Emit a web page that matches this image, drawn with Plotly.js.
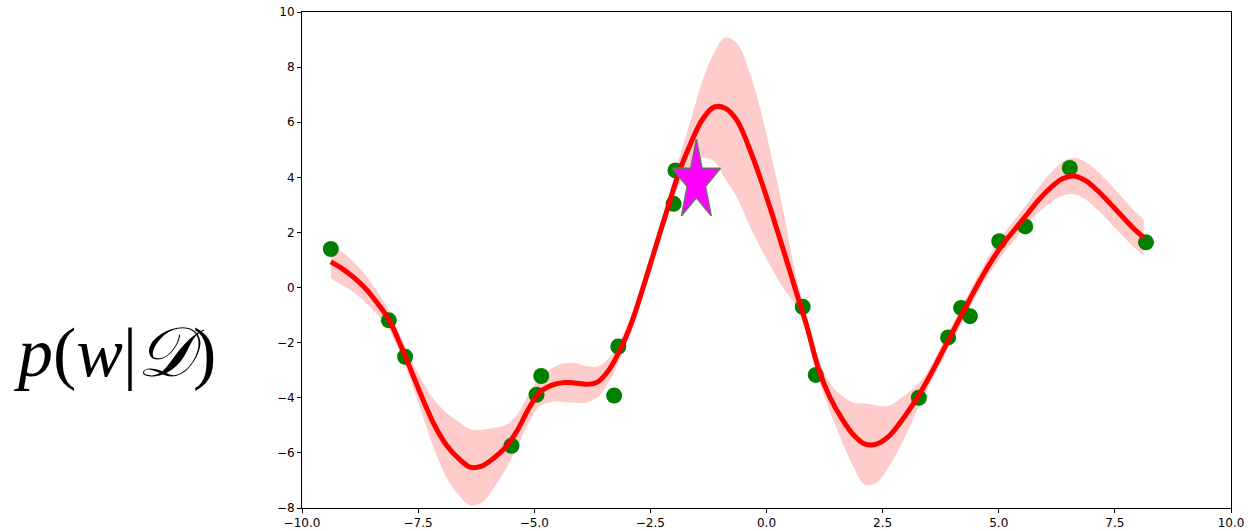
<!DOCTYPE html>
<html>
<head>
<meta charset="utf-8">
<script src="https://cdn.plot.ly/plotly-3.0.1.min.js"></script>
<style>html,body{margin:0;padding:0;background:#fff;}#chart{width:1248px;height:531px;}</style>
</head>
<body>
<div id="chart"></div>
<script>
// Posterior mean curve (x grid), its value, and the half-width of the shaded band
const gridX = [-9.38, -9.13, -8.88, -8.63, -8.38, -8.13, -7.88, -7.63, -7.38, -7.13, -6.88, -6.63, -6.38, -6.13, -5.88, -5.63, -5.38, -5.13, -4.88, -4.63, -4.38, -4.13, -3.88, -3.63, -3.38, -3.13, -2.88, -2.63, -2.38, -2.13, -1.88, -1.63, -1.38, -1.13, -0.88, -0.63, -0.38, -0.13, 0.12, 0.37, 0.62, 0.87, 1.12, 1.37, 1.62, 1.87, 2.12, 2.37, 2.62, 2.87, 3.12, 3.37, 3.62, 3.87, 4.12, 4.37, 4.62, 4.87, 5.12, 5.37, 5.62, 5.87, 6.12, 6.37, 6.62, 6.87, 7.12, 7.37, 7.62, 7.87, 8.12];
const meanY = [0.93, 0.68, 0.36, -0.04, -0.56, -1.16, -2.08, -3.1, -4.13, -5.05, -5.74, -6.2, -6.52, -6.48, -6.2, -5.82, -5.23, -4.43, -3.8, -3.55, -3.45, -3.46, -3.51, -3.42, -2.96, -2.18, -1.16, 0.15, 1.51, 2.87, 4.2, 5.24, 6.1, 6.55, 6.5, 6.05, 5.1, 3.95, 2.67, 1.33, -0.05, -1.41, -2.95, -4.0, -4.75, -5.34, -5.68, -5.68, -5.42, -4.92, -4.32, -3.65, -2.88, -2.06, -1.25, -0.45, 0.33, 1.03, 1.64, 2.16, 2.68, 3.2, 3.63, 3.95, 4.05, 3.88, 3.53, 3.1, 2.65, 2.2, 1.82];
const bandHalf = [0.6, 0.6, 0.55, 0.5, 0.42, 0.35, 0.33, 0.42, 0.65, 0.92, 1.18, 1.33, 1.38, 1.32, 1.1, 0.82, 0.6, 0.52, 0.5, 0.6, 0.7, 0.72, 0.66, 0.56, 0.42, 0.33, 0.3, 0.3, 0.3, 0.33, 0.48, 0.85, 1.4, 1.97, 2.58, 2.8, 2.8, 2.5, 2.0, 1.38, 0.58, 0.35, 0.38, 0.52, 0.83, 1.16, 1.48, 1.4, 1.12, 0.88, 0.6, 0.35, 0.3, 0.3, 0.3, 0.3, 0.32, 0.35, 0.35, 0.36, 0.38, 0.45, 0.54, 0.62, 0.66, 0.68, 0.7, 0.7, 0.69, 0.67, 0.65];

// Observed data points
const ptsX = [-9.38, -8.13, -7.78, -5.49, -4.95, -4.85, -3.28, -3.19, -1.96, -2.0, 0.78, 1.06, 3.28, 3.91, 4.19, 4.38, 5.01, 5.57, 6.53, 8.17];
const ptsY = [1.40, -1.19, -2.51, -5.74, -3.89, -3.21, -3.92, -2.14, 4.25, 3.04, -0.70, -3.17, -4.0, -1.81, -0.74, -1.04, 1.68, 2.22, 4.34, 1.64];

// Star marker position
const starX = [-1.51];
const starY = [3.85];

const xTicks = [-10, -7.5, -5, -2.5, 0, 2.5, 5, 7.5, 10];
const yTicks = [-8, -6, -4, -2, 0, 2, 4, 6, 8, 10];

const upperY = meanY.map((m, i) => m + bandHalf[i]);
const lowerY = meanY.map((m, i) => m - bandHalf[i]);

const M = {l: 302, r: 17, t: 12, b: 23};
const W = 1248, H = 531;
const xRange = [-10, 10], yRange = [-8, 10];
const pxPerX = (W - M.l - M.r) / (xRange[1] - xRange[0]);
const pxPerY = (H - M.t - M.b) / (yRange[1] - yRange[0]);

// star polygon computed around the star position (radii in pixels, stretched vertically as in the reference)
const starRx = 25.3, starRy = 42.4, innerRatio = 0.382;
const sx = [], sy = [];
for (let k = 0; k <= 10; k++) {
  const ang = Math.PI / 2 + k * Math.PI / 5;
  const r = (k % 2 === 0) ? 1 : innerRatio;
  sx.push(starX[0] + r * starRx * Math.cos(ang) / pxPerX);
  sy.push(starY[0] + r * starRy * Math.sin(ang) / pxPerY);
}

const traces = [
  {x: gridX, y: lowerY, mode: 'lines', line: {width: 0, shape: 'spline', smoothing: 1}, hoverinfo: 'skip', showlegend: false},
  {x: gridX, y: upperY, mode: 'lines', line: {width: 0, shape: 'spline', smoothing: 1}, fill: 'tonexty', fillcolor: 'rgba(255,0,0,0.2)', hoverinfo: 'skip', showlegend: false},
  {x: ptsX, y: ptsY, mode: 'markers', marker: {color: '#008000', size: 16}, showlegend: false},
  {x: gridX, y: meanY, mode: 'lines', line: {color: '#ff0000', width: 5, shape: 'spline', smoothing: 1}, showlegend: false},
  {x: sx, y: sy, mode: 'lines', fill: 'toself', fillcolor: '#ff00ff', line: {color: '#6e6e6e', width: 1.5}, showlegend: false}
];

const axisCommon = {
  showgrid: false, zeroline: false, showline: true, mirror: true,
  linecolor: '#000', linewidth: 1, ticks: 'outside', ticklen: 4, tickwidth: 1, tickcolor: '#000',
  tickfont: {family: 'DejaVu Sans', size: 12, color: '#000'}
};

const layout = {
  width: W, height: H,
  margin: M,
  paper_bgcolor: '#fff', plot_bgcolor: '#fff',
  xaxis: Object.assign({}, axisCommon, {range: xRange, tickvals: xTicks, ticktext: xTicks.map(v => (v < 0 ? '\u2212' : '') + Math.abs(v).toFixed(1))}),
  yaxis: Object.assign({}, axisCommon, {range: yRange, tickvals: yTicks, ticktext: yTicks.map(v => (v < 0 ? '\u2212' : '') + Math.abs(v))}),
  annotations: [{
    xref: 'paper', yref: 'paper', x: -0.2013, y: 0.314, xanchor: 'center', yanchor: 'middle',
    showarrow: false,
    text: '<i>p</i>(<i>w</i>|<i>\uD835\uDC9F</i>)',
    font: {family: 'Liberation Serif, DejaVu Serif, serif', size: 70, color: '#000'}
  }]
};

Plotly.newPlot('chart', traces, layout, {staticPlot: true, displayModeBar: false});
</script>
</body>
</html>
